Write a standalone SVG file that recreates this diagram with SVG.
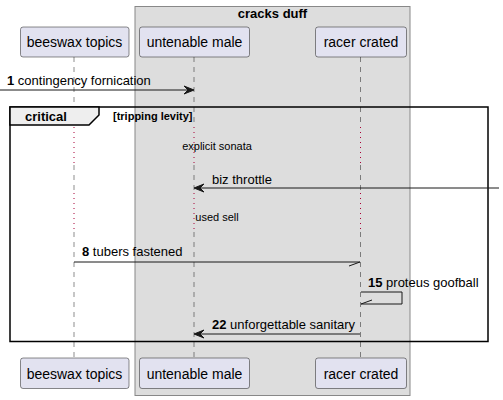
<svg xmlns="http://www.w3.org/2000/svg" width="503" height="400" viewBox="0 0 503 400">
<defs>
<style>
text{font-family:"Liberation Sans",Arial,sans-serif;fill:#000}
.pbox{fill:#E2E2F0;stroke:#181818;stroke-width:0.5}
.pt{font-size:14px;text-anchor:middle}
.life{stroke:#181818;stroke-width:0.5;stroke-dasharray:5,5;fill:none}
.delay{stroke:#A80036;stroke-width:1;stroke-dasharray:1,4;fill:none}
.msg{stroke:#181818;stroke-width:1;fill:none}
.mt{font-size:13px}
.num{font-weight:bold}
.dt{font-size:11px;text-anchor:middle}
</style>
</defs>
<g id="box-cracks-duff">
<rect x="135" y="6.5" width="275" height="389" fill="#DDDDDD" stroke="#888888" stroke-width="1"/>
<text x="272.5" y="18" font-size="13" font-weight="bold" text-anchor="middle">cracks duff</text>
</g>
<g id="lifelines">
<g id="life-beeswax">
<line class="life" x1="74" y1="57" x2="74" y2="127"/>
<line class="delay" x1="74" y1="127" x2="74" y2="165"/>
<line class="life" x1="74" y1="165" x2="74" y2="193"/>
<line class="delay" x1="74" y1="193" x2="74" y2="232"/>
<line class="life" x1="74" y1="232" x2="74" y2="358"/>
</g>
<g id="life-untenable">
<line class="life" x1="194" y1="57" x2="194" y2="127"/>
<line class="delay" x1="194" y1="127" x2="194" y2="165"/>
<line class="life" x1="194" y1="165" x2="194" y2="193"/>
<line class="delay" x1="194" y1="193" x2="194" y2="232"/>
<line class="life" x1="194" y1="232" x2="194" y2="358"/>
</g>
<g id="life-racer">
<line class="life" x1="360.5" y1="57" x2="360.5" y2="127"/>
<line class="delay" x1="360.5" y1="127" x2="360.5" y2="165"/>
<line class="life" x1="360.5" y1="165" x2="360.5" y2="193"/>
<line class="delay" x1="360.5" y1="193" x2="360.5" y2="232"/>
<line class="life" x1="360.5" y1="232" x2="360.5" y2="358"/>
</g>
</g>
<g id="p-beeswax-topics">
<rect class="pbox" x="20.5" y="27" width="108.5" height="30" rx="2.5"/>
<text class="pt" x="74.5" y="47">beeswax topics</text>
<rect class="pbox" x="20.5" y="358" width="108.5" height="30.5" rx="2.5"/>
<text class="pt" x="74.5" y="378.5">beeswax topics</text>
</g>
<g id="p-untenable-male">
<rect class="pbox" x="139.5" y="27" width="110" height="30" rx="2.5"/>
<text class="pt" x="194.5" y="47">untenable male</text>
<rect class="pbox" x="139.5" y="358" width="110" height="30.5" rx="2.5"/>
<text class="pt" x="194.5" y="378.5">untenable male</text>
</g>
<g id="p-racer-crated">
<rect class="pbox" x="315.5" y="27" width="91" height="30" rx="2.5"/>
<text class="pt" x="361" y="47">racer crated</text>
<rect class="pbox" x="315.5" y="358" width="91" height="30.5" rx="2.5"/>
<text class="pt" x="361" y="378.5">racer crated</text>
</g>
<g id="frame-critical">
<rect x="10" y="107" width="478" height="234.5" fill="none" stroke="#000" stroke-width="1.5"/>
<polygon points="10,107 99,107 99,115 89,125 10,125" fill="#EEEEEE" stroke="#000" stroke-width="1.5"/>
<text x="25" y="121" font-size="13" font-weight="bold">critical</text>
<text x="113" y="120" font-size="11" font-weight="bold">[tripping levity]</text>
</g>
<g id="delays">
<text class="dt" x="217" y="150">explicit sonata</text>
<text class="dt" x="217" y="221">used sell</text>
</g>
<g id="connectors">
<g id="m1">
<line class="msg" x1="0" y1="90" x2="192" y2="90"/>
<polygon points="194,90 184,86 188,90 184,94" fill="#181818" stroke="#181818"/>
<text class="mt" x="7" y="85"><tspan class="num">1</tspan> contingency fornication</text>
</g>
<g id="m-biz">
<line class="msg" x1="196" y1="188" x2="499" y2="188"/>
<polygon points="194,188 204,184 200,188 204,192" fill="#181818" stroke="#181818"/>
<text class="mt" x="212" y="184">biz throttle</text>
</g>
<g id="m8">
<line class="msg" x1="74" y1="262" x2="360" y2="262"/>
<line class="msg" x1="360" y1="262" x2="349" y2="266"/>
<text class="mt" x="82" y="256"><tspan class="num">8</tspan> tubers fastened</text>
</g>
<g id="m15">
<polyline class="msg" points="361,292 402,292 402,304 361,304"/>
<line class="msg" x1="361" y1="304" x2="372" y2="300"/>
<text class="mt" x="368" y="287"><tspan class="num">15</tspan> proteus goofball</text>
</g>
<g id="m22">
<line class="msg" x1="196" y1="334" x2="360" y2="334"/>
<polygon points="194,334 204,330 200,334 204,338" fill="#181818" stroke="#181818"/>
<text class="mt" x="212" y="329"><tspan class="num">22</tspan> unforgettable sanitary</text>
</g>
</g>
</svg>
